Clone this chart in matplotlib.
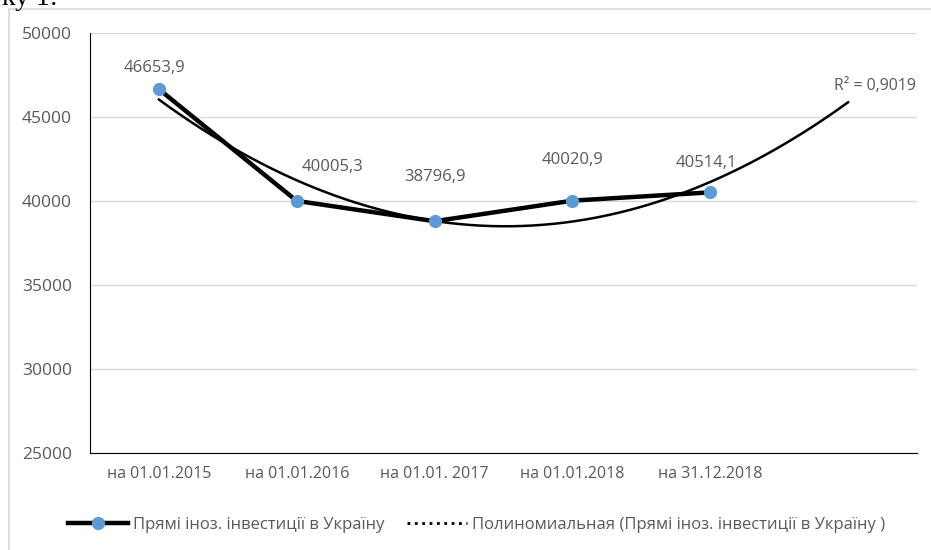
import numpy as np
import matplotlib.pyplot as plt
from matplotlib.lines import Line2D
from matplotlib.patches import Rectangle

# Дані з графіка
categories = ['на 01.01.2015', 'на 01.01.2016', 'на 01.01. 2017', 'на 01.01.2018', 'на 31.12.2018']
investments = [46653.9, 40005.3, 38796.9, 40020.9, 40514.1]
value_labels = ['46653,9', '40005,3', '38796,9', '40020,9', '40514,1']
label_offsets = [(-3, 15), (26, 24.5), (0, 32), (0, 29.5), (-3, 21)]

series_name = 'Прямі іноз. інвестиції в Україну'
trend_name = 'Полиномиальная (Прямі іноз. інвестиції в Україну )'

plt.rcParams['font.family'] = ['Open Sans', 'DejaVu Sans']
TEXT_COLOR = '#595959'


def plot_chart():
    fig = plt.figure(figsize=(9.31, 5.5), dpi=100)
    ax = fig.add_axes([90 / 931, 1 - 453 / 550, 827 / 931, 420 / 550])

    x = np.arange(len(investments))

    # поліноміальний тренд 2-го порядку з прогнозом на 1 період вперед
    coefs = np.polyfit(x, investments, 2)
    x_trend = np.linspace(0, len(investments), 200)
    ax.plot(x_trend, np.polyval(coefs, x_trend), color='black', lw=1.8, zorder=3)

    fitted = np.polyval(coefs, x)
    y = np.array(investments)
    r2 = 1 - np.sum((y - fitted) ** 2) / np.sum((y - y.mean()) ** 2)
    ax.annotate(f'R² = {r2:.4f}'.replace('.', ','), (len(investments), np.polyval(coefs, len(investments))),
                xytext=(19, 11.5), textcoords='offset points', ha='center', va='center',
                fontsize=11.4, color=TEXT_COLOR)

    ax.plot(x, investments, color='black', lw=3.2, marker='o', markersize=8.5,
            markerfacecolor='#5B9BD5', markeredgecolor='#5B9BD5', zorder=4)

    for xi, yi, lbl, off in zip(x, investments, value_labels, label_offsets):
        ax.annotate(lbl, (xi, yi), xytext=off, textcoords='offset points',
                    ha='center', va='center', fontsize=12, color=TEXT_COLOR)

    ax.set_xlim(-0.5, 5.5)
    ax.set_ylim(25000, 50000)
    ax.set_yticks(range(25000, 50001, 5000))
    ax.set_xticks(x)
    ax.set_xticklabels(categories)
    ax.tick_params(axis='x', length=0, pad=9, labelsize=11.5, labelcolor=TEXT_COLOR)
    ax.tick_params(axis='y', length=0, pad=13, labelsize=12.5, labelcolor=TEXT_COLOR)

    ax.grid(axis='y', color='#D9D9D9', lw=1)
    ax.set_axisbelow(True)
    for side in ['top', 'right']:
        ax.spines[side].set_visible(False)
    ax.spines['left'].set_color('black')
    ax.spines['bottom'].set_color('black')

    handles = [
        Line2D([], [], color='black', lw=3.2, marker='o', markersize=8.5,
               markerfacecolor='#5B9BD5', markeredgecolor='#5B9BD5'),
        Line2D([], [], color='black', lw=2, linestyle=':'),
    ]
    fig.legend(handles, [series_name, trend_name], loc='center', bbox_to_anchor=(476.5 / 931, 1 - 525 / 550),
               ncol=2, frameon=False, fontsize=12, labelcolor=TEXT_COLOR,
               handlelength=3.6, handletextpad=0.3, columnspacing=1.3)

    # рамка діаграми та обрізаний текст документа зверху
    fig.add_artist(Rectangle((9 / 931, -0.1), 1.2, 1.1 - 9 / 550, transform=fig.transFigure,
                             fill=False, edgecolor='#D9D9D9', lw=1.2))
    fig.text(2 / 931, 1 - 5 / 550, 'ку 1:', fontsize=20, family='Liberation Serif',
             va='baseline', ha='left', color='black')

    fig.savefig('out.png', dpi=100)


def main():
    plot_chart()


if __name__ == "__main__":
    main()
